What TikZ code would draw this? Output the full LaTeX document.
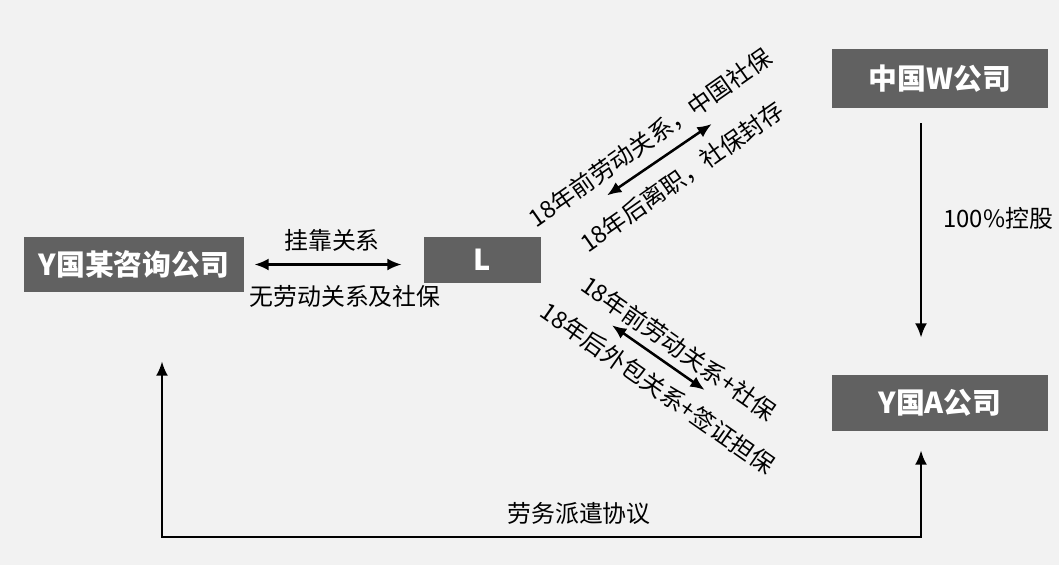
\documentclass[tikz,border=0pt]{standalone}
\usepackage{fontspec}
\setmainfont{Noto Sans CJK SC}
\usepackage{tikz}
\usetikzlibrary{arrows.meta,positioning,calc}

\begin{document}
\begin{tikzpicture} [x = 0.025cm, y = -0.025cm, >={Latex[length=3.6mm, width=3mm]},
        caja/.style = {fill = black!62, text = white, inner sep = 0pt, font = \fontsize{20.5}{24}\selectfont\bfseries},
        etiqueta/.style = {inner sep = 0pt, font = \fontsize{17}{20}\selectfont},
        flecha/.style = {line width = 1.8pt}]
            \fill[black!5] (0,0) rectangle (1059,565);   % fondo
            \useasboundingbox (0,0) rectangle (1059,565);
            \node[caja, minimum width = 5.5cm, minimum height = 1.375cm] (ycons) at (134,264.5) {Y国某咨询公司};   % cajas
            \node[caja, minimum width = 2.925cm, minimum height = 1.15cm] (L) at (482.5,260) {L};
            \node[caja, minimum width = 5.4cm, minimum height = 1.475cm] (wcorp) at (940,78.5) {中国W公司};
            \node[caja, minimum width = 5.4cm, minimum height = 1.4cm] (acorp) at (940,403) {Y国A公司};

            \draw[flecha, <->, shorten <= 0.25cm, shorten >= 0.55cm] (ycons.east) -- (ycons.east -| L.west);   % consultora - L
            \node[etiqueta] (guakao) at (332,240) {挂靠关系};
            \node[etiqueta] (sinrel) at (345,296) {无劳动关系及社保};

            \draw[flecha, ->] ($(wcorp.south)+(-19,15)$) -- ($(acorp.north)+(-19,-37)$);   % control 100%
            \node[etiqueta, anchor = west] (control) at (943,218) {100\%控股};

            \draw[flecha, <->] ($(L.north east)+(65.7,-41.3)$) -- ($(wcorp.west)+(-120,45.5)$);   % L - W
            \node[etiqueta, rotate = 35] (antesw) at (650,138) {18年前劳动关系，中国社保};
            \node[etiqueta, rotate = 35] (despuesw) at (682,177) {18年后离职，社保封存};

            \draw[flecha, <->] ($(L.south east)+(70.7,42)$) -- ($(acorp.west)+(-127,-13)$);   % L - A
            \node[etiqueta, rotate = -35] (antesa) at (679,348) {18年前劳动关系+社保};
            \node[etiqueta, rotate = -35] (despuesa) at (658,388) {18年后外包关系+签证担保};

            \coordinate (base) at (540,537);
            \draw[flecha, <->] ($(ycons.south)+(28,69)$) |- (base) -| ($(acorp.south)+(-19,19)$);   % despacho
            \node[etiqueta] (despacho) at (579,513) {劳务派遣协议};
        \end{tikzpicture}
\end{document}
